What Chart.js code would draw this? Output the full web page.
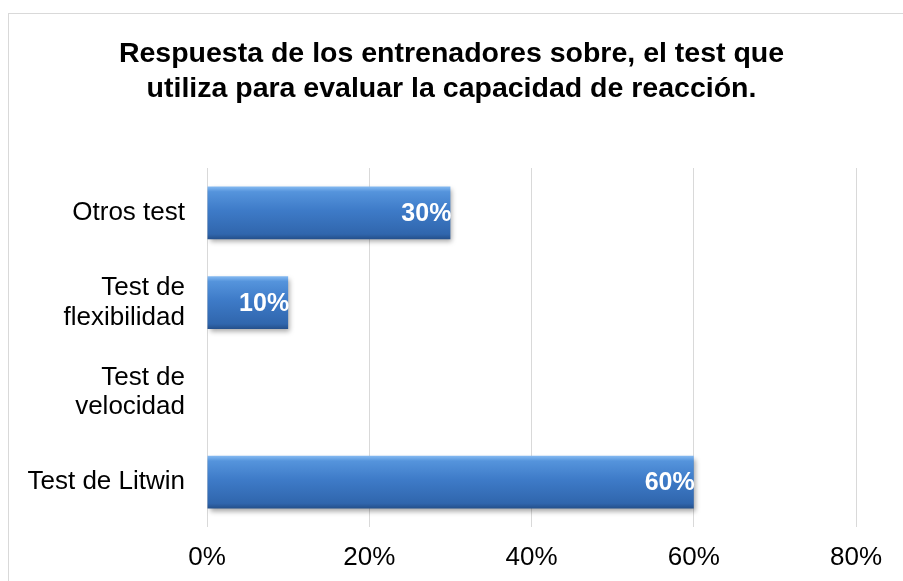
<!DOCTYPE html>
<html>
<head>
<meta charset="utf-8">
<script src="https://cdn.jsdelivr.net/npm/chart.js@4/dist/chart.umd.min.js"></script>
<style>
  html, body { margin: 0; padding: 0; background: #fff; overflow: hidden; }
  #frame {
    position: absolute; left: 8px; top: 13px;
    width: 960px; height: 640px;
    border: 1px solid #d9d9d9;
  }
  #wrap { position: absolute; left: 0; top: 0; width: 903px; height: 581px; }
</style>
</head>
<body>
<div id="frame"></div>
<div id="wrap"><canvas id="chart"></canvas></div>
<script>
const categories = [
  "Otros test",
  ["Test de", "flexibilidad"],
  ["Test de", "velocidad"],
  "Test de Litwin",
];
const percentages = [30, 10, 0, 60];
const xTicks = [0, 20, 40, 60, 80];
const chartTitle = [
  "Respuesta de los entrenadores sobre, el test que",
  "utiliza para evaluar la capacidad de reacción.",
];

function barGradient(context) {
  const el = context.chart.getDatasetMeta(0).data[context.dataIndex];
  if (!el || el.y === undefined || !el.height) return "#3e7bc8";
  const top = el.y - el.height / 2;
  const g = context.chart.ctx.createLinearGradient(0, top, 0, top + el.height);
  g.addColorStop(0, "#86bbf2");
  g.addColorStop(0.1, "#5594dc");
  g.addColorStop(0.45, "#3e7bc8");
  g.addColorStop(0.9, "#3066ad");
  g.addColorStop(1, "#244f8a");
  return g;
}

// title centred on the whole canvas (the built-in one centres on the padded box)
const centeredTitle = {
  id: "centeredTitle",
  afterDraw(chart) {
    const ctx = chart.ctx;
    const lineH = 35.6;
    ctx.save();
    ctx.fillStyle = "#000";
    ctx.font = "bold 28.5px 'Liberation Sans', Arial, sans-serif";
    ctx.textAlign = "center";
    ctx.textBaseline = "middle";
    chartTitle.forEach(function (line, i) {
      ctx.fillText(line, chart.width / 2, 36 + lineH / 2 + i * lineH);
    });
    ctx.restore();
  },
};

// shadow under the bars and the white value labels
const barLook = {
  id: "barLook",
  beforeDatasetsDraw(chart) {
    const ctx = chart.ctx;
    ctx.save();
    ctx.shadowColor = "rgba(0,0,0,0.35)";
    ctx.shadowBlur = 5;
    ctx.shadowOffsetX = 2;
    ctx.shadowOffsetY = 3;
  },
  afterDatasetsDraw(chart) {
    const ctx = chart.ctx;
    ctx.restore();
    const meta = chart.getDatasetMeta(0);
    ctx.save();
    ctx.fillStyle = "#ffffff";
    ctx.font = "bold 25px 'Liberation Sans', Arial, sans-serif";
    ctx.textAlign = "right";
    ctx.textBaseline = "middle";
    meta.data.forEach(function (el, i) {
      if (!percentages[i]) return;
      ctx.fillText(percentages[i] + "%", el.x + 1, el.y + 1);
    });
    ctx.restore();
  },
};

const chart = new Chart(document.getElementById("chart"), {
  type: "bar",
  data: {
    labels: categories,
    datasets: [
      {
        data: percentages,
        backgroundColor: barGradient,
        borderWidth: 0,
        barPercentage: 0.59,
        categoryPercentage: 1,
      },
    ],
  },
  options: {
    indexAxis: "y",
    responsive: true,
    maintainAspectRatio: false,
    animation: false,
    layout: { padding: { left: 0, right: 47, top: 168, bottom: 0 } },
    plugins: {
      legend: { display: false },
      tooltip: { enabled: false },
      title: { display: false },
    },
    scales: {
      x: {
        min: 0,
        max: 80,
        afterBuildTicks(scale) {
          scale.ticks = xTicks.map(function (v) { return { value: v }; });
        },
        afterFit(scale) { scale.height = 54; },
        grid: { color: "#d9d9d9", lineWidth: 1, drawTicks: false },
        border: { display: false },
        ticks: {
          padding: 15,
          color: "#000",
          font: { family: "'Liberation Sans', Arial, sans-serif", size: 26 },
          callback: function (v) { return v + "%"; },
        },
      },
      y: {
        afterFit(scale) { scale.width = 207; },
        grid: { display: false, drawTicks: false },
        border: { display: false },
        ticks: {
          padding: 22,
          color: "#000",
          font: { family: "'Liberation Sans', Arial, sans-serif", size: 26, lineHeight: 1.15 },
        },
      },
    },
  },
  plugins: [barLook, centeredTitle],
});
// second pass so the gradients know where each bar sits
chart.update();
</script>
</body>
</html>
